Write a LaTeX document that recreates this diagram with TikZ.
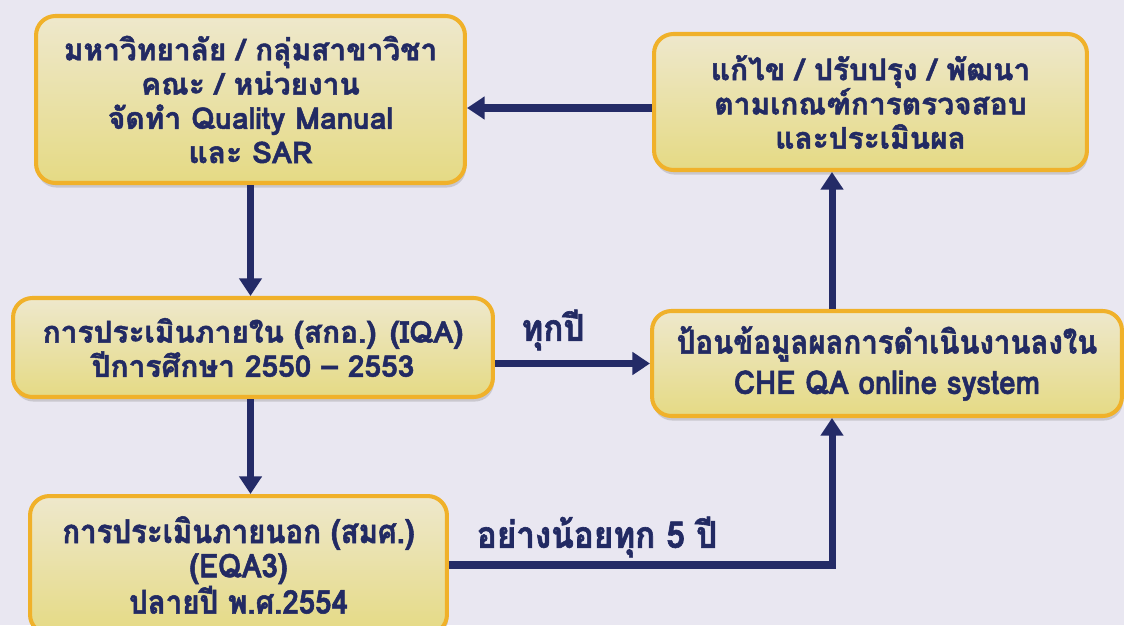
\documentclass[tikz,border=0pt]{standalone}
\usepackage{fontspec}
\setmainfont[Script=Thai,BoldFeatures={FakeBold=1.6}]{Loma}
\newfontfamily\thaicond[Script=Thai,FakeStretch=0.9,BoldFeatures={FakeBold=1.6}]{Loma}
\usepackage{tikz}
\usetikzlibrary{arrows.meta,shadows}
\definecolor{pagebg}{HTML}{E9E7F1}
\definecolor{boxtop}{HTML}{EEE8CC}
\definecolor{boxbottom}{HTML}{E5DA84}
\definecolor{boxline}{HTML}{F0B12A}
\definecolor{inknavy}{HTML}{222A63}
\definecolor{arrownavy}{HTML}{242B67}
\tikzset{
  qabox/.style={rounded corners=11pt,draw=boxline,line width=2.3pt,
    top color=boxtop,bottom color=boxbottom,text=inknavy,align=center,
    inner sep=0pt,font=\bfseries\fontsize{17}{19.5}\selectfont,
    drop shadow={opacity=.3,shadow xshift=.6pt,shadow yshift=-2.6pt}},
  condbox/.style={qabox,font=\thaicond\bfseries\fontsize{18.6}{19.5}\selectfont},
  flow/.style={arrownavy,line width=4pt,-{Triangle[width=12.5pt,length=10pt]}},
  flowlabel/.style={text=inknavy,font=\thaicond\bfseries\fontsize{21}{21}\selectfont}
}

\begin{document}
\begin{tikzpicture}[x=0.02cm,y=-0.02cm]
\useasboundingbox (0,0) rectangle (1124,625);
\clip (0,0) rectangle (1124,625);
\fill[pagebg] (0,0) rectangle (1124,625);
% boxes
\node[qabox,minimum width=8.58cm,minimum height=3.34cm] (unit) at (250.5,99.5)
  {มหาวิทยาลัย / กลุ่มสาขาวิชา\\คณะ / หน่วยงาน\\จัดทำ Quality Manual\\และ SAR};
\node[qabox,minimum width=8.66cm,minimum height=2.72cm] (improve) at (870.5,102)
  {แก้ไข / ปรับปรุง / พัฒนา\\ตามเกณฑ์การตรวจสอบ\\และประเมินผล};
\node[qabox,minimum width=9.6cm,minimum height=1.98cm] (iqa) at (253,347.5)
  {การประเมินภายใน (สกอ.) (IQA)\\ปีการศึกษา 2550 – 2553};
\node[condbox,minimum width=9.4cm,minimum height=2.1cm] (online) at (887,363.5)
  {ป้อนข้อมูลผลการดำเนินงานลงใน\\[3.5pt]CHE QA online system};
\node[condbox,minimum width=8.34cm,minimum height=2.76cm] (eqa) at (238.5,565)
  {การประเมินภายนอก (สมศ.)\\(EQA3)\\ปลายปี พ.ศ.2554};
\coordinate (colR) at (832,0);
\coordinate (rowT) at (0,108);
% connectors
\draw[flow] (unit.south) -- (unit.south |- iqa.north);
\draw[flow] (unit.south |- iqa.south) -- (unit.south |- eqa.north);
\draw[flow] (iqa.east |- online.west) -- (online.west);
\draw[flow] (eqa.east) -| (online.south -| colR);
\draw[flow] (online.north -| colR) -- (improve.south -| colR);
\draw[flow] (improve.west |- rowT) -- (unit.east |- rowT);
\node[flowlabel] (everyyear) at (553,330) {ทุกปี};
\node[flowlabel] (fiveyear) at (597,537) {อย่างน้อยทุก 5 ปี};
\end{tikzpicture}
\end{document}
